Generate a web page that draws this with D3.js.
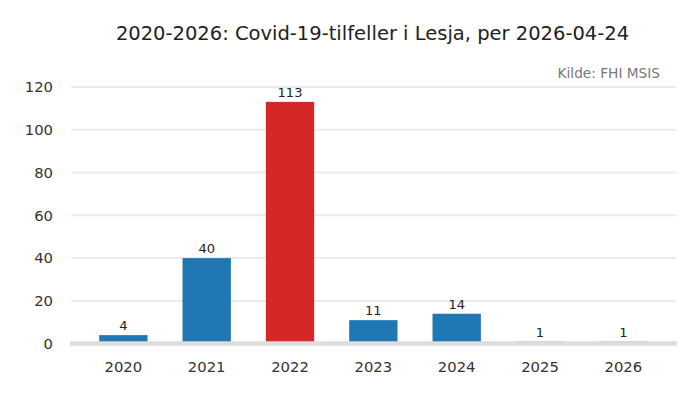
<!DOCTYPE html>
<html><head><meta charset="utf-8">
<script src="https://cdn.jsdelivr.net/npm/d3@7"></script>
<style>body{margin:0;background:#fff}svg{display:block;font-family:"DejaVu Sans",sans-serif}</style>
</head><body><svg id="c" width="700" height="400"></svg>
<script>
const years = ["2020","2021","2022","2023","2024","2025","2026"];
const cases = [4,40,113,11,14,1,1];
const highlight = ["2022"];
const yTicks = [0,20,40,60,80,100,120];
const title = "2020-2026: Covid-19-tilfeller i Lesja, per 2026-04-24";
const source = "Kilde: FHI MSIS";

const svg = d3.select("#c");
const x = d3.scaleBand().domain(years).range([81.7,665]).paddingInner(0.42).paddingOuter(0.21);
const y = d3.scaleLinear().domain([0,120]).range([343.7,86.9]);

svg.append("text").attr("x",372.5).attr("y",40).attr("text-anchor","middle")
  .attr("font-size",19.5).attr("fill","#222").text(title);
svg.append("text").attr("x",660).attr("y",78).attr("text-anchor","end")
  .attr("font-size",13.7).attr("fill","#777").text(source);

svg.append("g").selectAll("line").data(yTicks.filter(d=>d>0)).join("line")
  .attr("x1",71).attr("x2",676).attr("y1",d=>y(d)).attr("y2",d=>y(d))
  .attr("stroke","#ebebeb").attr("stroke-width",2);

const yAxis = svg.append("g").attr("transform","translate(70,0)")
  .call(d3.axisLeft(y).tickValues(yTicks).tickSize(0).tickPadding(17));
yAxis.select(".domain").remove();
yAxis.selectAll("text").attr("font-size",14.8).attr("fill","#333").attr("font-family","DejaVu Sans");

svg.append("g").selectAll("rect").data(years).join("rect")
  .attr("x",d=>x(d)).attr("width",x.bandwidth())
  .attr("y",(d,i)=>y(cases[i])).attr("height",(d,i)=>y(0)-y(cases[i]))
  .attr("fill",d=>highlight.includes(d)?"#d62728":"#1f77b4");

svg.append("line").attr("x1",70).attr("x2",677).attr("y1",y(0)-0.2).attr("y2",y(0)-0.2)
  .attr("stroke","#dddddd").attr("stroke-width",4.4);

svg.append("g").selectAll("text").data(years).join("text")
  .attr("x",d=>x(d)+x.bandwidth()/2).attr("y",(d,i)=>y(cases[i])-5)
  .attr("text-anchor","middle").attr("font-size",13).attr("fill","#222")
  .text((d,i)=>cases[i]);

const xAxis = svg.append("g").attr("transform",`translate(0,${y(0)})`)
  .call(d3.axisBottom(x).tickSize(0).tickPadding(18));
xAxis.select(".domain").remove();
xAxis.selectAll("text").attr("font-size",14.8).attr("fill","#333").attr("font-family","DejaVu Sans");
</script></body></html>
